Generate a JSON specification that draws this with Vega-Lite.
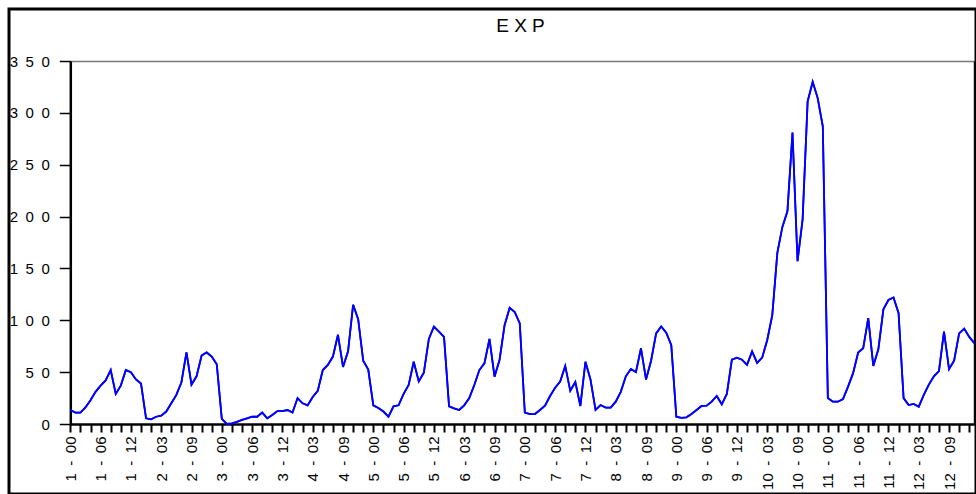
{
  "$schema": "https://vega.github.io/schema/vega-lite/v6.json",
  "width": 967,
  "height": 485,
  "autosize": {"type": "none"},
  "padding": {"left": 9, "top": 9, "right": 0, "bottom": 0},
  "background": "white",
  "config": {"view": {"stroke": "black", "strokeWidth": 3}, "font": "Liberation Sans"},
  "title": {"text": "E X P", "fontSize": 19, "fontWeight": "normal", "font": "Liberation Sans", "color": "black", "anchor": "middle", "frame": "group", "offset": -20, "baseline": "alphabetic", "dx": 28, "dy": 22},
  "data": {"values": [
    {"i":0,"exp":13.5},{"i":1,"exp":11},{"i":2,"exp":11},{"i":3,"exp":16},{"i":4,"exp":23},{"i":5,"exp":31},{"i":6,"exp":37},{"i":7,"exp":42},{"i":8,"exp":52},{"i":9,"exp":29},
    {"i":10,"exp":37},{"i":11,"exp":52},{"i":12,"exp":50},{"i":13,"exp":43},{"i":14,"exp":39},{"i":15,"exp":5.5},{"i":16,"exp":4.5},{"i":17,"exp":7},{"i":18,"exp":8},{"i":19,"exp":12},
    {"i":20,"exp":20},{"i":21,"exp":28},{"i":22,"exp":40},{"i":23,"exp":69},{"i":24,"exp":38},{"i":25,"exp":46},{"i":26,"exp":66},{"i":27,"exp":69},{"i":28,"exp":65},{"i":29,"exp":57.5},
    {"i":30,"exp":5},{"i":31,"exp":0},{"i":32,"exp":0.6},{"i":33,"exp":2},{"i":34,"exp":4},{"i":35,"exp":5.5},{"i":36,"exp":7},{"i":37,"exp":7},{"i":38,"exp":11},{"i":39,"exp":5.5},
    {"i":40,"exp":8.7},{"i":41,"exp":12.5},{"i":42,"exp":12.5},{"i":43,"exp":13.5},{"i":44,"exp":11},{"i":45,"exp":25},{"i":46,"exp":20},{"i":47,"exp":18},{"i":48,"exp":26},{"i":49,"exp":32},
    {"i":50,"exp":52},{"i":51,"exp":57},{"i":52,"exp":65},{"i":53,"exp":86},{"i":54,"exp":55},{"i":55,"exp":70},{"i":56,"exp":115},{"i":57,"exp":101},{"i":58,"exp":61},{"i":59,"exp":52.5},
    {"i":60,"exp":18},{"i":61,"exp":15.5},{"i":62,"exp":12},{"i":63,"exp":7},{"i":64,"exp":17},{"i":65,"exp":18},{"i":66,"exp":29},{"i":67,"exp":37.6},{"i":68,"exp":60},{"i":69,"exp":41},
    {"i":70,"exp":49.5},{"i":71,"exp":82},{"i":72,"exp":94},{"i":73,"exp":89},{"i":74,"exp":84},{"i":75,"exp":17},{"i":76,"exp":15},{"i":77,"exp":13.5},{"i":78,"exp":18},{"i":79,"exp":25},
    {"i":80,"exp":37.6},{"i":81,"exp":52},{"i":82,"exp":58.5},{"i":83,"exp":82},{"i":84,"exp":45.6},{"i":85,"exp":62},{"i":86,"exp":95.5},{"i":87,"exp":112},{"i":88,"exp":108},{"i":89,"exp":97},
    {"i":90,"exp":11},{"i":91,"exp":9.6},{"i":92,"exp":9.6},{"i":93,"exp":13.5},{"i":94,"exp":17.7},{"i":95,"exp":27},{"i":96,"exp":35},{"i":97,"exp":41},{"i":98,"exp":56},{"i":99,"exp":32},
    {"i":100,"exp":40.5},{"i":101,"exp":17.4},{"i":102,"exp":60},{"i":103,"exp":43},{"i":104,"exp":13.5},{"i":105,"exp":18.3},{"i":106,"exp":15.8},{"i":107,"exp":15.8},{"i":108,"exp":21.5},{"i":109,"exp":31},
    {"i":110,"exp":46},{"i":111,"exp":53},{"i":112,"exp":50},{"i":113,"exp":73},{"i":114,"exp":43},{"i":115,"exp":61},{"i":116,"exp":87.4},{"i":117,"exp":94},{"i":118,"exp":88},{"i":119,"exp":76},
    {"i":120,"exp":7},{"i":121,"exp":6},{"i":122,"exp":6.4},{"i":123,"exp":9.6},{"i":124,"exp":13.5},{"i":125,"exp":17.4},{"i":126,"exp":17.7},{"i":127,"exp":21.5},{"i":128,"exp":27},{"i":129,"exp":19},
    {"i":130,"exp":29},{"i":131,"exp":62},{"i":132,"exp":64},{"i":133,"exp":62},{"i":134,"exp":57},{"i":135,"exp":70},{"i":136,"exp":59},{"i":137,"exp":64},{"i":138,"exp":81},{"i":139,"exp":105},
    {"i":140,"exp":165},{"i":141,"exp":190},{"i":142,"exp":205},{"i":143,"exp":281},{"i":144,"exp":157},{"i":145,"exp":197},{"i":146,"exp":311},{"i":147,"exp":330},{"i":148,"exp":314},{"i":149,"exp":287},
    {"i":150,"exp":25},{"i":151,"exp":21.5},{"i":152,"exp":21.5},{"i":153,"exp":24},{"i":154,"exp":36},{"i":155,"exp":49},{"i":156,"exp":69},{"i":157,"exp":73},{"i":158,"exp":102},{"i":159,"exp":56},
    {"i":160,"exp":72},{"i":161,"exp":110.6},{"i":162,"exp":119.6},{"i":163,"exp":122},{"i":164,"exp":107},{"i":165,"exp":25},{"i":166,"exp":18.3},{"i":167,"exp":19.3},{"i":168,"exp":16.7},{"i":169,"exp":28},
    {"i":170,"exp":38},{"i":171,"exp":46},{"i":172,"exp":51},{"i":173,"exp":89},{"i":174,"exp":53},{"i":175,"exp":61},{"i":176,"exp":87.4},{"i":177,"exp":92},{"i":178,"exp":84},{"i":179,"exp":78}
  ]},
  "layer": [
    {
      "mark": {"type": "line", "color": "#0000ff", "strokeWidth": 1.8},
      "encoding": {
        "x": {"field": "i", "type": "quantitative",
          "scale": {"domain": [0, 179], "range": [61.3, 965.3], "nice": false, "zero": false},
          "axis": {"orient": "bottom", "offset": -70, "title": null, "grid": false,
            "domainColor": "black", "domainWidth": 2.5,
            "values": [0,2,4,6,8,10,12,14,16,18,20,22,24,26,28,30,32,34,36,38,40,42,44,46,48,50,52,54,56,58,60,62,64,66,68,70,72,74,76,78,80,82,84,86,88,90,92,94,96,98,100,102,104,106,108,110,112,114,116,118,120,122,124,126,128,130,132,134,136,138,140,142,144,146,148,150,152,154,156,158,160,162,164,166,168,170,172,174,176,178],
            "tickColor": "black", "tickWidth": 2, "tickSize": 8,
            "labelExpr": "datum.value % 6 == 0 ? (floor(datum.value / 15) + 1) + '\u2002-\u2002' + (datum.value % 15 < 10 ? '0' : '') + (datum.value % 15) : ''",
            "labelAngle": 270, "labelFontSize": 15, "labelFont": "Liberation Sans", "labelColor": "black",
            "labelPadding": 4, "labelOverlap": false, "labelBound": false, "labelFlush": false}},
        "y": {"field": "exp", "type": "quantitative",
          "scale": {"domain": [0, 350], "range": [415, 52], "nice": false, "zero": false},
          "axis": {"orient": "left", "offset": -61.3, "title": null, "grid": false,
            "domainColor": "black", "domainWidth": 2.5,
            "values": [0,50,100,150,200,250,300,350],
            "tickColor": "black", "tickWidth": 1.5, "tickSize": 11,
            "labelExpr": "join(split(datum.label, ''), '\u2002')",
            "labelFontSize": 15, "labelFont": "Liberation Sans", "labelColor": "black",
            "labelPadding": 10, "labelOverlap": false, "labelBound": false, "labelFlush": false}}
      }
    },
    {
      "mark": {"type": "line", "color": "#0000ff", "strokeWidth": 1.8},
      "encoding": {
        "x": {"field": "i", "type": "quantitative",
          "scale": {"domain": [0, 179], "range": [61.3, 965.3], "nice": false, "zero": false},
          "axis": {"orient": "top", "offset": -52, "title": null, "grid": false, "ticks": false, "labels": false,
            "domainColor": "#777777", "domainWidth": 1.3}},
        "y": {"field": "exp", "type": "quantitative",
          "scale": {"domain": [0, 350], "range": [415, 52], "nice": false, "zero": false},
          "axis": {"orient": "right", "offset": -1.7, "title": null, "grid": false, "ticks": false, "labels": false,
            "domainColor": "black", "domainWidth": 2}}
      }
    }
  ],
  "resolve": {"scale": {"x": "independent", "y": "independent"}, "axis": {"x": "independent", "y": "independent"}}
}
